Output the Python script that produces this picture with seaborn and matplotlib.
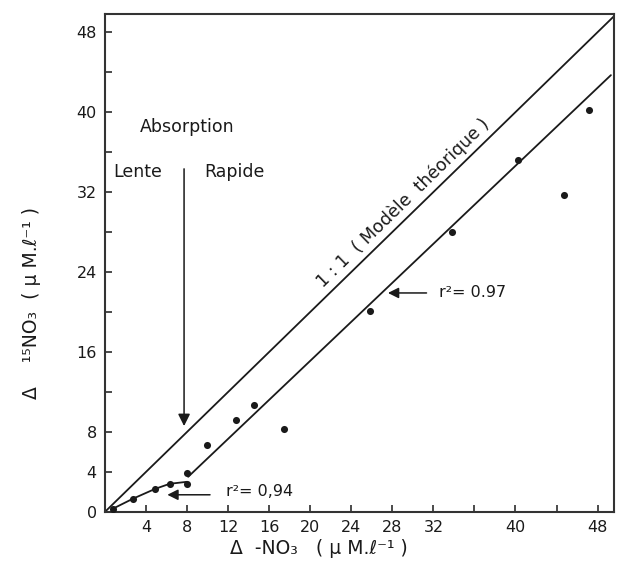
import matplotlib
matplotlib.use("Agg")
import matplotlib.pyplot as plt
import seaborn as sns
import pandas as pd

# ---- data ----
x_pts = [0.75, 2.7, 4.9, 6.3, 8.0, 8.0, 9.9, 12.8, 14.5, 17.4, 25.8, 33.8, 40.2, 44.7, 47.2]
y_pts = [0.3, 1.3, 2.3, 2.8, 2.8, 3.9, 6.7, 9.2, 10.7, 8.3, 20.1, 28.0, 35.2, 31.7, 40.2]

low_x = [0.75, 2.7, 4.9, 6.3, 8.0]          # r2 = 0,94 segment
low_y = [0.3, 1.3, 2.3, 2.8, 3.0]
fit_x = [8.1, 49.3]                          # r2 = 0.97 regression
fit_y = [3.5, 43.7]
one_x = [0.0, 49.7]                          # 1:1 model
one_y = [0.0, 49.7]

x_ticks = [0, 4, 8, 12, 16, 20, 24, 28, 32, 36, 40, 44, 48]
x_labels = ["", "4", "8", "12", "16", "20", "24", "28", "32", "", "40", "", "48"]
y_ticks = [0, 4, 8, 12, 16, 20, 24, 28, 32, 36, 40, 44, 48]
y_labels = ["0", "4", "8", "", "16", "", "24", "", "32", "", "40", "", "48"]

sns.set_style("ticks")
plt.rcParams['font.family'] = ['DejaVu Sans']

fig = plt.figure(figsize=(6.18, 5.68), dpi=100)
ax = fig.add_axes([0.170, 0.099, 0.8235, 0.876])

ink = "#1a1a1a"
sns.lineplot(x=one_x, y=one_y, ax=ax, color=ink, lw=1.3, sort=False)
sns.lineplot(x=fit_x, y=fit_y, ax=ax, color=ink, lw=1.3, sort=False)
sns.lineplot(x=low_x, y=low_y, ax=ax, color=ink, lw=1.3, sort=False)
sns.scatterplot(x=x_pts, y=y_pts, ax=ax, color=ink, s=26, edgecolor=ink, linewidth=0, zorder=5)

ax.set_xlim(0, 49.6)
ax.set_ylim(0, 49.8)
ax.set_xticks(x_ticks)
ax.set_xticklabels(x_labels)
ax.set_yticks(y_ticks)
ax.set_yticklabels(y_labels)
ax.tick_params(direction="in", length=5, width=1.1, colors=ink, labelsize=11.5, pad=6)
for s in ax.spines.values():
    s.set_linewidth(1.5)
    s.set_color("#333333")

tfont = dict(color=ink, fontsize=11.5)
bfont = dict(color=ink, fontsize=12.5)
ax.set_xlabel("Δ  -NO₃   ( μ M.ℓ⁻¹ )", color=ink, fontsize=13.5)
ax.xaxis.set_label_coords(0.42, -0.055)
ax.set_ylabel("Δ    ¹⁵NO₃  ( μ M.ℓ⁻¹ )", color=ink, fontsize=13.5)
ax.yaxis.set_label_coords(-0.125, 0.42)

ax.text(8.0, 38.5, "Absorption", ha="center", va="center", **bfont)
ax.text(3.2, 34.0, "Lente", ha="center", va="center", **bfont)
ax.text(12.6, 34.0, "Rapide", ha="center", va="center", **bfont)
ax.annotate("", xy=(7.7, 8.3), xytext=(7.7, 34.6),
            arrowprops=dict(arrowstyle="-|>", color=ink, lw=1.1, mutation_scale=18))

ax.text(29.1, 30.9, "1 : 1  ( Modèle  théorique )", ha="center", va="center",
        rotation=45, rotation_mode="anchor", transform_rotates_text=True, **bfont)

ax.annotate("", xy=(27.3, 21.9), xytext=(31.6, 21.9),
            arrowprops=dict(arrowstyle="-|>", color=ink, lw=1.1, mutation_scale=16))
ax.text(32.5, 21.9, "r²= 0.97", ha="left", va="center", **tfont)

ax.annotate("", xy=(5.8, 1.7), xytext=(10.5, 1.7),
            arrowprops=dict(arrowstyle="-|>", color=ink, lw=1.1, mutation_scale=16))
ax.text(11.8, 2.0, "r²= 0,94", ha="left", va="center", **tfont)

fig.savefig("out.png", dpi=100, facecolor="white")
